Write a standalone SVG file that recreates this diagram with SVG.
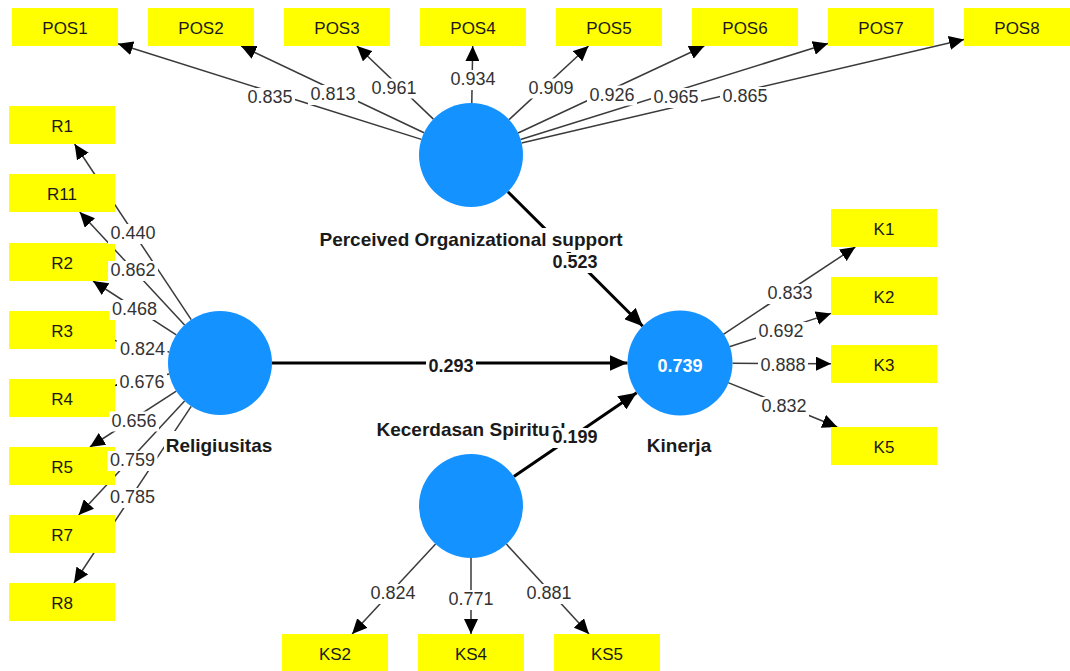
<svg xmlns="http://www.w3.org/2000/svg" width="1070" height="671" viewBox="0 0 1070 671">
<style>
.box{fill:#ffff00}
.bl{font-family:"Liberation Sans",Arial,sans-serif;font-size:17px;fill:#1a1a1a;text-anchor:middle}
.lv{fill:#1492ff}
.ll{font-family:"Liberation Sans",Arial,sans-serif;font-weight:bold;font-size:19px;fill:#1a1a1a;text-anchor:middle}
.ld{stroke:#3a3a3a;stroke-width:1.5;fill:none;marker-end:url(#ah)}
.pt{stroke:#000;stroke-width:3;fill:none;marker-end:url(#ahb)}
.num{font-family:"Liberation Sans",Arial,sans-serif;font-size:18px;fill:#333;text-anchor:middle}
.nb{font-weight:bold;fill:#1a1a1a}
.bg{fill:#fff}
.r2{font-family:"Liberation Sans",Arial,sans-serif;font-weight:bold;font-size:18px;fill:#fff;text-anchor:middle}
</style>
<defs>
<marker id="ah" markerUnits="userSpaceOnUse" markerWidth="15" markerHeight="14" refX="15" refY="7" orient="auto"><path d="M0,0 L15,7 L0,14 z" fill="#000"/></marker>
<marker id="ahb" markerUnits="userSpaceOnUse" markerWidth="18" markerHeight="16" refX="18" refY="8" orient="auto"><path d="M0,0 L18,8 L0,16 z" fill="#000"/></marker>
</defs>
<rect width="1070" height="671" fill="#fff"/>
<g id="connectors">
<line class="ld" x1="421.4" y1="139.4" x2="118" y2="43.7"/>
<line class="ld" x1="424" y1="132.7" x2="241.1" y2="46"/>
<line class="ld" x1="433.4" y1="119.1" x2="356.9" y2="46"/>
<line class="ld" x1="471.8" y1="103" x2="472.7" y2="46"/>
<line class="ld" x1="509.1" y1="119.6" x2="588.5" y2="46"/>
<line class="ld" x1="518.1" y1="133" x2="704.3" y2="46"/>
<line class="ld" x1="520.6" y1="139.5" x2="828" y2="43.5"/>
<line class="ld" x1="521.6" y1="143.1" x2="964" y2="39.4"/>
<line class="ld" x1="191.2" y1="319.7" x2="74.6" y2="144"/>
<line class="ld" x1="184.6" y1="324.9" x2="79.7" y2="212"/>
<line class="ld" x1="176.3" y1="334.8" x2="93" y2="281"/>
<line class="ld" x1="169.2" y1="352.1" x2="115" y2="340.4"/>
<line class="ld" x1="169.2" y1="373.9" x2="115" y2="385.6"/>
<line class="ld" x1="176.3" y1="391.2" x2="89.9" y2="447"/>
<line class="ld" x1="184.6" y1="401.1" x2="78.7" y2="515"/>
<line class="ld" x1="191.2" y1="406.3" x2="74" y2="583"/>
<line class="ld" x1="723.4" y1="334.3" x2="855.3" y2="247"/>
<line class="ld" x1="729.4" y1="346.8" x2="831" y2="313.4"/>
<line class="ld" x1="732.5" y1="363.3" x2="831" y2="363.7"/>
<line class="ld" x1="728.2" y1="382.6" x2="837.3" y2="427"/>
<line class="ld" x1="435.6" y1="544.1" x2="352.1" y2="634"/>
<line class="ld" x1="471" y1="558" x2="471" y2="634"/>
<line class="ld" x1="506.4" y1="544.1" x2="589" y2="634"/>
<line class="pt" x1="272" y1="363" x2="627.5" y2="363"/>
<line class="pt" x1="507.9" y1="191.7" x2="642.8" y2="326.2"/>
<line class="pt" x1="513.9" y1="476.6" x2="636.7" y2="392.7"/>
</g>
<g id="pos-indicators">
<g id="POS1"><rect class="box" x="12" y="8" width="106" height="38"/><text class="bl" x="65" y="33.5">POS1</text></g>
<g id="POS2"><rect class="box" x="148" y="8" width="106" height="38"/><text class="bl" x="201" y="33.5">POS2</text></g>
<g id="POS3"><rect class="box" x="284" y="8" width="106" height="38"/><text class="bl" x="337" y="33.5">POS3</text></g>
<g id="POS4"><rect class="box" x="420" y="8" width="106" height="38"/><text class="bl" x="473" y="33.5">POS4</text></g>
<g id="POS5"><rect class="box" x="556" y="8" width="106" height="38"/><text class="bl" x="609" y="33.5">POS5</text></g>
<g id="POS6"><rect class="box" x="692" y="8" width="106" height="38"/><text class="bl" x="745" y="33.5">POS6</text></g>
<g id="POS7"><rect class="box" x="828" y="8" width="106" height="38"/><text class="bl" x="881" y="33.5">POS7</text></g>
<g id="POS8"><rect class="box" x="964" y="8" width="106" height="38"/><text class="bl" x="1017" y="33.5">POS8</text></g>
</g>
<g id="r-indicators">
<g id="R1"><rect class="box" x="9" y="106" width="106" height="38"/><text class="bl" x="62" y="131.5">R1</text></g>
<g id="R11"><rect class="box" x="9" y="174" width="106" height="38"/><text class="bl" x="62" y="199.5">R11</text></g>
<g id="R2"><rect class="box" x="9" y="243" width="106" height="38"/><text class="bl" x="62" y="268.5">R2</text></g>
<g id="R3"><rect class="box" x="9" y="311" width="106" height="38"/><text class="bl" x="62" y="336.5">R3</text></g>
<g id="R4"><rect class="box" x="9" y="379" width="106" height="38"/><text class="bl" x="62" y="404.5">R4</text></g>
<g id="R5"><rect class="box" x="9" y="447" width="106" height="38"/><text class="bl" x="62" y="472.5">R5</text></g>
<g id="R7"><rect class="box" x="9" y="515" width="106" height="38"/><text class="bl" x="62" y="540.5">R7</text></g>
<g id="R8"><rect class="box" x="9" y="583" width="106" height="38"/><text class="bl" x="62" y="608.5">R8</text></g>
</g>
<g id="k-indicators">
<g id="K1"><rect class="box" x="831" y="209" width="106" height="38"/><text class="bl" x="884" y="234.5">K1</text></g>
<g id="K2"><rect class="box" x="831" y="277" width="106" height="38"/><text class="bl" x="884" y="302.5">K2</text></g>
<g id="K3"><rect class="box" x="831" y="345" width="106" height="38"/><text class="bl" x="884" y="370.5">K3</text></g>
<g id="K5"><rect class="box" x="831" y="427" width="106" height="38"/><text class="bl" x="884" y="452.5">K5</text></g>
</g>
<g id="ks-indicators">
<g id="KS2"><rect class="box" x="282" y="634" width="106" height="38"/><text class="bl" x="335" y="659.5">KS2</text></g>
<g id="KS4"><rect class="box" x="418" y="634" width="106" height="38"/><text class="bl" x="471" y="659.5">KS4</text></g>
<g id="KS5"><rect class="box" x="554" y="634" width="106" height="38"/><text class="bl" x="607" y="659.5">KS5</text></g>
</g>
<g id="POS"><circle class="lv" cx="471" cy="155" r="52"/><rect class="bg" x="317" y="228" width="308" height="24"/><text class="ll" x="471" y="246">Perceived Organizational support</text></g>
<g id="Religiusitas"><circle class="lv" cx="220" cy="363" r="52"/><rect class="bg" x="164" y="431" width="110" height="25"/><text class="ll" x="219" y="451.5">Religiusitas</text></g>
<g id="Kinerja"><circle class="lv" cx="680" cy="363" r="52.5"/><text class="r2" x="680" y="371.5">0.739</text><rect class="bg" x="645" y="431" width="68" height="25"/><text class="ll" x="679" y="451.5">Kinerja</text></g>
<g id="KS"><circle class="lv" cx="471" cy="506" r="52"/><rect class="bg" x="374" y="418" width="194" height="24"/><text class="ll" x="471" y="436">Kecerdasan Spiritual</text></g>
<g id="connector-labels">
<rect class="bg" x="245" y="88" width="50" height="20"/><text class="num" x="270" y="103">0.835</text>
<rect class="bg" x="308" y="85" width="50" height="20"/><text class="num" x="333" y="100">0.813</text>
<rect class="bg" x="369" y="78.5" width="50" height="20"/><text class="num" x="394" y="93.5">0.961</text>
<rect class="bg" x="448" y="70" width="50" height="20"/><text class="num" x="473" y="85">0.934</text>
<rect class="bg" x="526" y="78.5" width="50" height="20"/><text class="num" x="551" y="93.5">0.909</text>
<rect class="bg" x="587" y="85.5" width="50" height="20"/><text class="num" x="612" y="100.5">0.926</text>
<rect class="bg" x="651" y="88" width="50" height="20"/><text class="num" x="676" y="103">0.965</text>
<rect class="bg" x="720" y="87" width="50" height="20"/><text class="num" x="745" y="102">0.865</text>
<rect class="bg" x="108" y="224" width="50" height="20"/><text class="num" x="133" y="239">0.440</text>
<rect class="bg" x="108" y="261" width="50" height="20"/><text class="num" x="133" y="276">0.862</text>
<rect class="bg" x="109.5" y="300" width="50" height="20"/><text class="num" x="134.5" y="315">0.468</text>
<rect class="bg" x="116.5" y="332" width="51" height="28"/><text class="num" x="142.5" y="355">0.824</text>
<rect class="bg" x="117" y="373" width="50" height="20"/><text class="num" x="142" y="388">0.676</text>
<rect class="bg" x="109" y="411.5" width="50" height="20"/><text class="num" x="134" y="426.5">0.656</text>
<rect class="bg" x="107.5" y="451" width="50" height="20"/><text class="num" x="132.5" y="466">0.759</text>
<rect class="bg" x="107.5" y="488" width="50" height="20"/><text class="num" x="132.5" y="503">0.785</text>
<rect class="bg" x="765" y="284" width="50" height="20"/><text class="num" x="790" y="299">0.833</text>
<rect class="bg" x="756" y="322" width="50" height="20"/><text class="num" x="781" y="337">0.692</text>
<rect class="bg" x="758" y="356" width="50" height="20"/><text class="num" x="783" y="371">0.888</text>
<rect class="bg" x="759" y="397" width="50" height="20"/><text class="num" x="784" y="412">0.832</text>
<rect class="bg" x="368" y="584" width="50" height="20"/><text class="num" x="393" y="599">0.824</text>
<rect class="bg" x="446" y="590" width="50" height="20"/><text class="num" x="471" y="605">0.771</text>
<rect class="bg" x="524" y="584" width="50" height="20"/><text class="num" x="549" y="599">0.881</text>
<rect class="bg" x="426" y="356.5" width="50" height="20"/><text class="num nb" x="451" y="371.5">0.293</text>
<rect class="bg" x="550" y="253" width="50" height="20"/><text class="num nb" x="575" y="268">0.523</text>
<rect class="bg" x="550" y="428" width="50" height="20"/><text class="num nb" x="575" y="443">0.199</text>
</g>
</svg>
